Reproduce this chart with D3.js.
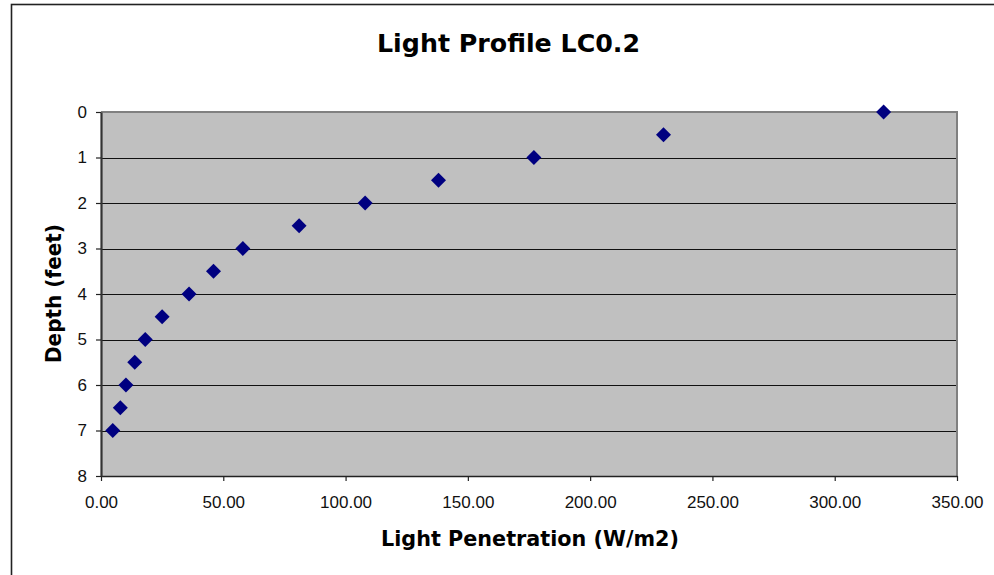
<!DOCTYPE html>
<html>
<head>
<meta charset="utf-8">
<script src="https://cdn.jsdelivr.net/npm/d3@7"></script>
<style>
  html, body { margin: 0; padding: 0; background: #fff; }
  svg { display: block; }
</style>
</head>
<body>
<script>
// ---- data ----
const chartTitle = "Light Profile LC0.2";
const xTitle = "Light Penetration (W/m2)";
const yTitle = "Depth (feet)";
const depthFeet = [0, 0.5, 1, 1.5, 2, 2.5, 3, 3.5, 4, 4.5, 5, 5.5, 6, 6.5, 7];
const lightWm2 = [320, 230, 177, 138, 108, 81, 58, 46, 36, 25, 18.1, 13.8, 10.2, 7.9, 4.8];
const xTicks = [0, 50, 100, 150, 200, 250, 300, 350];
const yTicks = [0, 1, 2, 3, 4, 5, 6, 7, 8];

// ---- layout ----
const W = 994, H = 575;
const plot = { left: 101, top: 112, right: 957, bottom: 476 };

const svg = d3.select("body").append("svg").attr("width", W).attr("height", H);

// outer chart frame (extends past the window on right/bottom)
svg.append("rect")
  .attr("x", 11.5).attr("y", 4.5)
  .attr("width", W + 20).attr("height", H + 20)
  .attr("fill", "#fff").attr("stroke", "#222").attr("stroke-width", 1.6);

const x = d3.scaleLinear().domain([0, 350]).range([plot.left, plot.right]);
const y = d3.scaleLinear().domain([0, 8]).range([plot.top, plot.bottom]);

// plot background
svg.append("rect")
  .attr("x", plot.left).attr("y", plot.top)
  .attr("width", plot.right - plot.left).attr("height", plot.bottom - plot.top)
  .attr("fill", "#C0C0C0");

// gridlines
svg.append("g").selectAll("line").data(yTicks.filter(d => d > 0 && d < 8)).join("line")
  .attr("x1", plot.left).attr("x2", plot.right)
  .attr("y1", d => Math.round(y(d)) + 0.5).attr("y2", d => Math.round(y(d)) + 0.5)
  .attr("stroke", "#111").attr("stroke-width", 1.2);

// plot border top/right (gray)
svg.append("path")
  .attr("d", `M${plot.left},${plot.top}H${plot.right}V${plot.bottom}`)
  .attr("fill", "none").attr("stroke", "#808080").attr("stroke-width", 2);

const tickFont = "'Liberation Sans', Arial, sans-serif";

// x axis
const xAxis = svg.append("g")
  .attr("transform", `translate(0,${plot.bottom})`)
  .call(d3.axisBottom(x).tickValues(xTicks).tickFormat(d3.format(".2f")).tickSize(5).tickPadding(15).tickSizeOuter(0));
xAxis.select(".domain").attr("stroke", "#222").attr("stroke-width", 1.6);
xAxis.selectAll(".tick line").attr("stroke", "#222").attr("stroke-width", 1.2);
xAxis.selectAll("text").attr("font-family", tickFont).attr("font-size", 17).attr("fill", "#111");

// y axis
const yAxis = svg.append("g")
  .attr("transform", `translate(${plot.left},0)`)
  .call(d3.axisLeft(y).tickValues(yTicks).tickFormat(d3.format("d")).tickSize(5).tickPadding(9).tickSizeOuter(0));
yAxis.select(".domain").attr("stroke", "#333").attr("stroke-width", 2.2);
yAxis.selectAll(".tick line").attr("stroke", "#222").attr("stroke-width", 1.2);
yAxis.selectAll("text").attr("font-family", tickFont).attr("font-size", 17).attr("fill", "#111");

// markers (diamonds)
const diamond = d3.symbol().type(d3.symbolSquare).size(112);
svg.append("g").selectAll("path").data(depthFeet.map((d, i) => ({ depth: d, light: lightWm2[i] }))).join("path")
  .attr("d", diamond)
  .attr("transform", d => `translate(${x(d.light)},${y(d.depth)}) rotate(45)`)
  .attr("fill", "#000080");

const titleFont = "'DejaVu Sans', Verdana, sans-serif";

// chart title
svg.append("text")
  .attr("x", 508.5).attr("y", 51.5)
  .attr("text-anchor", "middle")
  .attr("font-family", titleFont).attr("font-weight", "bold").attr("font-size", 25)
  .attr("textLength", 263).attr("lengthAdjust", "spacingAndGlyphs")
  .attr("fill", "#000").text(chartTitle);

// x title
svg.append("text")
  .attr("x", 530).attr("y", 546)
  .attr("text-anchor", "middle")
  .attr("font-family", titleFont).attr("font-weight", "bold").attr("font-size", 22)
  .attr("textLength", 298).attr("lengthAdjust", "spacingAndGlyphs")
  .attr("fill", "#000").text(xTitle);

// y title
svg.append("text")
  .attr("transform", "translate(61,293.5) rotate(-90)")
  .attr("text-anchor", "middle")
  .attr("font-family", titleFont).attr("font-weight", "bold").attr("font-size", 21)
  .attr("textLength", 139).attr("lengthAdjust", "spacingAndGlyphs")
  .attr("fill", "#000").text(yTitle);
</script>
</body>
</html>
